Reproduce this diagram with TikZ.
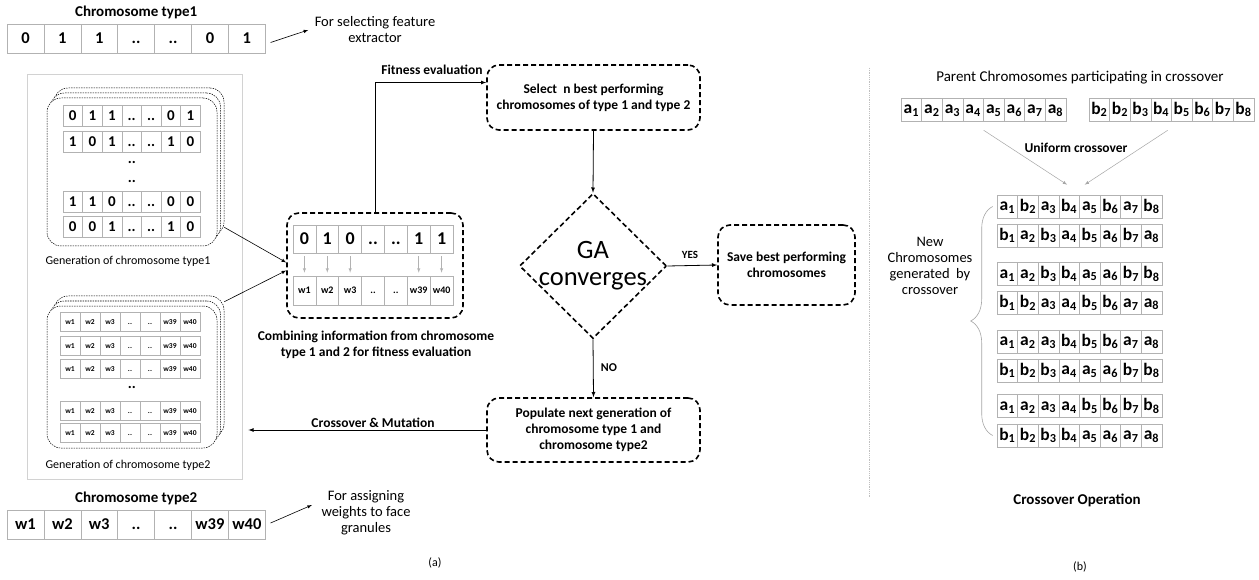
\documentclass[tikz,border=0pt]{standalone}
\usepackage{fontspec}
\setmainfont{Carlito}
\usetikzlibrary{positioning}
\usetikzlibrary{shapes.geometric}
\usetikzlibrary{decorations.pathreplacing}

\newcommand{\fnorm}{\fontsize{14.5}{16}\selectfont}
\newcommand{\fcapt}{\fontsize{12}{15}\selectfont}
\newcommand{\fbold}{\fontsize{13.5}{16}\selectfont\bfseries}
\newcommand{\ftitle}{\fontsize{15}{17}\selectfont\bfseries}
\newcommand{\fcell}{\fontsize{16.5}{18}\selectfont\bfseries}
\newcommand{\fbig}{\fontsize{18}{20}\selectfont\bfseries}
\newcommand{\fmid}{\fontsize{15}{16}\selectfont\bfseries}
\newcommand{\fsmall}{\fontsize{10}{11}\selectfont\bfseries}
\newcommand{\ftiny}{\fontsize{7.5}{8}\selectfont\bfseries}
\newcommand{\fgene}{\fontsize{17.5}{18}\selectfont\bfseries}

\tikzstyle{cell}=[%
  draw=gray!60,
  line width=0.6pt,
  inner sep=0pt,
  execute at begin node={\vphantom{0}}
]
\tikzstyle{stackbox}=[%
  draw,
  line width=0.5pt,
  dash pattern=on 1.5pt off 1pt,
  rounded corners=14pt,
  fill=white,
  minimum width=170pt,
  inner sep=0pt
]
\tikzstyle{flowbox}=[%
  draw,
  line width=1.6pt,
  dash pattern=on 5pt off 3pt,
  rounded corners=12pt,
  align=center,
  font=\fbold
]
\tikzstyle{flowarrow}=[line width=0.8pt, -latex]
\tikzstyle{thinarrow}=[line width=0.6pt, -latex]

% one chromosome: name, left x, centre y, cell width, cell height, font, genes
\newcommand{\chromrow}[7]{%
  \foreach \v [count=\i] in {#7} {%
    \node[cell, minimum width=#4pt, minimum height=#5pt, font={#6}] (#1-\i) at ({#2+(\i-0.5)*#4}, #3) {\v};
  }%
}
% crossover chromosome: name, left x, centre y, letter/index pairs
\newcommand{\generow}[4]{%
  \foreach \l/\s [count=\i] in {#4} {%
    \node[cell, minimum width=20.6pt, minimum height=23pt, font=\fgene] (#1-\i) at ({#2+(\i-0.5)*20.6}, #3) {\l\textsubscript{\s}};
  }%
}

\begin{document}
\begin{tikzpicture}[x=1pt, y=-1pt]
  \fill[white] (0,0) rectangle (1259,580);

  % chromosome type 1
  \chromrow{t1}{7}{38.5}{36.9}{29}{\fcell}{0,1,1,..,..,0,1}
  \node[font=\ftitle, above=1pt of t1-4] (t1lbl) {Chromosome type1};
  \node[font=\fnorm, align=center] (t1note) at (375,30) {For selecting feature\\extractor};
  \draw[thinarrow] ([shift={(5pt,-4pt)}]t1-7.east) -- ([xshift=-3pt]t1note.west);

  % population panel
  \node[draw=gray!35, line width=0.8pt, minimum width=215pt, minimum height=405pt, inner sep=0pt] (genpanel) at (134.5,276.5) {};

  \foreach \k in {2,1,0} {%
    \node[stackbox, minimum height=148pt] (g1-\k) at ({132+3.5*\k}, {172-5*\k}) {};
  }
  \chromrow{s1r1}{63}{116}{19.6}{20.5}{\fmid}{0,1,1,..,..,0,1}
  \chromrow{s1r2}{63}{142}{19.6}{20.5}{\fmid}{1,0,1,..,..,1,0}
  \chromrow{s1r3}{63}{202}{19.6}{20.5}{\fmid}{1,1,0,..,..,0,0}
  \chromrow{s1r4}{63}{227}{19.6}{20.5}{\fmid}{0,0,1,..,..,1,0}
  \node[font=\fmid] (s1dots1) at (132,162) {..};
  \node[font=\fmid] (s1dots2) at (132,181) {..};
  \node[font=\fcapt] (g1lbl) at (128,261) {Generation of chromosome type1};

  \foreach \k in {2,1,0} {%
    \node[stackbox, minimum height=142pt] (g2-\k) at ({132+3.5*\k}, {377-5*\k}) {};
  }
  \chromrow{s2r1}{60}{322}{20}{19}{\ftiny}{w1,w2,w3,..,..,w39,w40}
  \chromrow{s2r2}{60}{346}{20}{19}{\ftiny}{w1,w2,w3,..,..,w39,w40}
  \chromrow{s2r3}{60}{369}{20}{19}{\ftiny}{w1,w2,w3,..,..,w39,w40}
  \chromrow{s2r4}{60}{411}{20}{19}{\ftiny}{w1,w2,w3,..,..,w39,w40}
  \chromrow{s2r5}{60}{433}{20}{19}{\ftiny}{w1,w2,w3,..,..,w39,w40}
  \node[font=\fmid] (s2dots) at (132,387) {..};
  \node[font=\fcapt] (g2lbl) at (128,465) {Generation of chromosome type2};

  % chromosome type 2
  \chromrow{t2}{7}{524.5}{36.9}{29}{\fcell}{w1,w2,w3,..,..,w39,w40}
  \node[font=\ftitle, above=1pt of t2-4] (t2lbl) {Chromosome type2};
  \node[font=\fnorm, align=center] (t2note) at (366,513) {For assigning\\weights to face\\granules};
  \draw[thinarrow] ([shift={(5pt,1.5pt)}]t2-7.east) -- ([shift={(-6pt,8pt)}]t2note.west);

  % combined chromosome
  \node[flowbox, minimum width=176pt, minimum height=105pt] (comb) at (375,265.5) {};
  \chromrow{cb1}{293}{239}{22.86}{28}{\fbig}{0,1,0,..,..,1,1}
  \chromrow{cb2}{293}{290.5}{22.86}{29}{\fsmall}{w1,w2,w3,..,..,w39,w40}
  \foreach \i in {1,2,3,6,7} {%
    \draw[gray!60, line width=0.5pt, -latex, shorten <=3pt, shorten >=3pt] (cb1-\i.south) -- (cb2-\i.north);
  }
  \node[font=\fbold, align=center] (comblbl) at (376,345) {Combining information from chromosome\\type 1 and 2 for fitness evaluation};
  \draw[thinarrow] ([yshift=9pt]g1-2.south east) -- ([yshift=3pt]comb.west);
  \draw[thinarrow] ([yshift=-6pt]g2-2.north east) -- ([yshift=-5pt]comb.west);

  % GA loop
  \node[flowbox, minimum width=213pt, minimum height=65pt] (select) at (593.5,97.5) {Select~ n best performing\\chromosomes of type 1 and type 2};
  \node[diamond, draw, line width=1.6pt, dash pattern=on 5pt off 3pt, minimum width=147pt, minimum height=145pt, inner sep=0pt] (conv) at (593,266) {};
  \node[font=\fontsize{26.5}{27}\selectfont, align=center] (convlbl) at (conv.center) {GA\\converges};
  \node[flowbox, minimum width=137pt, minimum height=80pt] (save) at (786.5,265) {Save best performing\\chromosomes};
  \node[flowbox, minimum width=213pt, minimum height=64pt] (populate) at (593.5,430) {Populate next generation of\\chromosome type 1 and\\chromosome type2};

  \draw[flowarrow] (comb.north) |- ([yshift=15pt]select.west);
  \draw[flowarrow] (select.south) -- (conv.north);
  \draw[flowarrow] (conv.east) -- (save.west);
  \draw[flowarrow] (conv.south) -- (populate.north);
  \draw[flowarrow, shorten >=6pt] (populate.west) -- (populate.west -| genpanel.east);
  \node[font=\fbold] (fitlbl) at (432,70) {Fitness evaluation};
  \node[font=\fontsize{11}{12}\selectfont\bfseries] (yeslbl) at (690,255) {YES};
  \node[font=\fontsize{12}{13}\selectfont\bfseries] (nolbl) at (609,368) {NO};
  \node[font=\fbold] (xmlbl) at (373,423) {Crossover \& Mutation};
  \node[font=\fcapt] (alab) at (435,563) {(a)};

  % crossover operation
  \draw[gray!50, line width=0.8pt, densely dotted] (869,68) -- (869,498);
  \node[font=\fontsize{15}{17}\selectfont] (parlbl) at (1080,78) {Parent Chromosomes participating in crossover};
  \generow{pa}{901}{109.5}{a/1,a/2,a/3,a/4,a/5,a/6,a/7,a/8}
  \generow{pb}{1089}{109.5}{b/2,b/2,b/3,b/4,b/5,b/6,b/7,b/8}
  \node[font=\fbold] (unilbl) at (1076,148) {Uniform crossover};

  \generow{o1}{997}{206.5}{a/1,b/2,a/3,b/4,a/5,b/6,a/7,b/8}
  \generow{o2}{997}{235.5}{b/1,a/2,b/3,a/4,b/5,a/6,b/7,a/8}
  \generow{o3}{997}{274}{a/1,a/2,b/3,b/4,a/5,a/6,b/7,b/8}
  \generow{o4}{997}{303}{b/1,b/2,a/3,a/4,b/5,b/6,a/7,a/8}
  \generow{o5}{997}{341.5}{a/1,a/2,a/3,b/4,b/5,b/6,a/7,a/8}
  \generow{o6}{997}{370.5}{b/1,b/2,b/3,a/4,a/5,a/6,b/7,b/8}
  \generow{o7}{997}{406}{a/1,a/2,a/3,a/4,b/5,b/6,b/7,b/8}
  \generow{o8}{997}{435.5}{b/1,b/2,b/3,b/4,a/5,a/6,a/7,a/8}

  \draw[gray!70, line width=0.5pt, -latex] ([shift={(0pt,-9pt)}]pa-4.south east) -- ([shift={(-2pt,10pt)}]o1-4.north);
  \draw[gray!70, line width=0.5pt, -latex] ([shift={(-4pt,-9pt)}]pb-4.south east) -- ([shift={(-5pt,10pt)}]o1-5.north);

  \draw[gray!70, line width=0.6pt, decorate, decoration={brace, amplitude=22pt}] ([xshift=-4pt]o8-1.west) -- ([xshift=-4pt]o1-1.west);
  \node[font=\fnorm, align=center] (newlbl) at (930,266) {New\\Chromosomes\\generated~ by\\crossover};

  \node[font=\fontsize{15}{17}\selectfont\bfseries] (xolbl) at (1077,500) {Crossover Operation};
  \node[font=\fcapt] (blab) at (1080,567) {(b)};
\end{tikzpicture}
\end{document}
